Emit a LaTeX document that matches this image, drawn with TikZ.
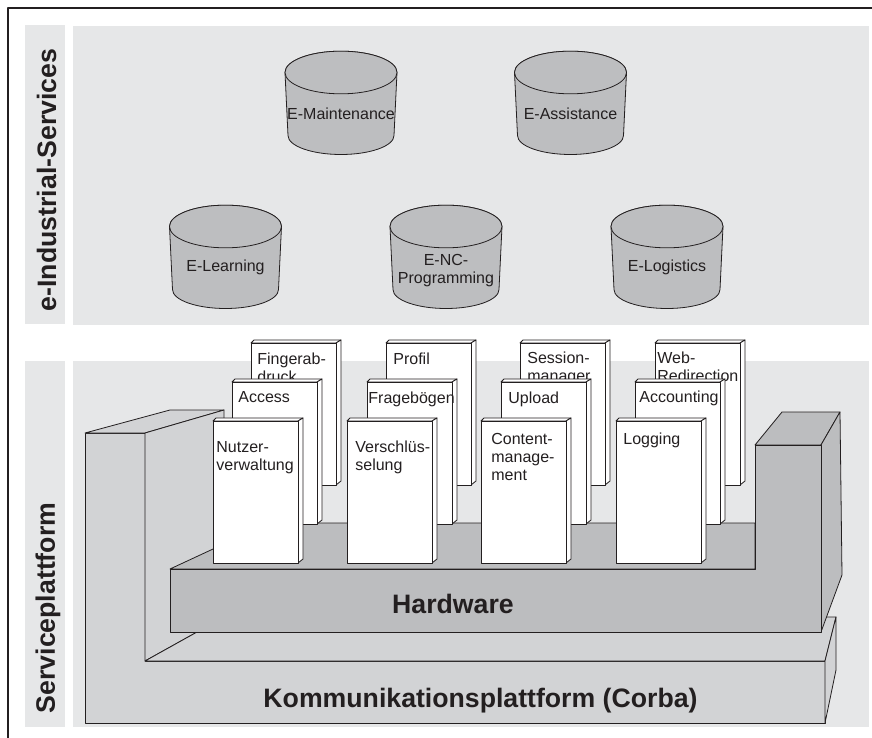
\documentclass[tikz,border=0pt]{standalone}
\usepackage{fontspec}
\setmainfont{Liberation Sans}

\definecolor{panelgray}{RGB}{230,231,232}
\definecolor{cangray}{RGB}{189,190,192}
\definecolor{hwgray}{RGB}{188,189,191}
\definecolor{kpgray}{RGB}{210,211,213}
\definecolor{linedark}{RGB}{35,31,32}

% a service drum: name, centre of the lid, text
\newcommand{\servicecan}[5][41]{%
  \filldraw[canbody] (#3-56,#4) -- (#3-53,#4+63)
    arc[start angle = 180, end angle = 360, x radius = 39.75pt, y radius = 14.25pt]
    -- (#3+56,#4)
    arc[start angle = 0, end angle = 180, x radius = 42pt, y radius = 16pt] -- cycle;
  \draw[canbody] (#3,#4) ellipse [x radius = 42pt, y radius = 16pt];
  \node[cantext] (#2) at (#3,#4+#1) {#5};
}

% a module book: name, top left corner, text inset, text
\newcommand{\modulebook}[6]{%
  \begin{scope}[shift = {(#2,#3)}]
    \filldraw[bookside] (0,0) -- (3,-3) -- (90,-3) -- (85,0) -- cycle;
    \filldraw[bookside] (85,0) -- (90,-3) -- (90,138) -- (85,142) -- cycle;
  \end{scope}
  \node[bookface] (#1) at (#2,#3) {};
  \node[booktext] (#1-text) at (#2+#4,#3+#5) {#6};
}

\begin{document}
\begin{tikzpicture}[x = 0.75pt, y = -0.75pt, line width = 0.6pt, line join = round,
    canbody/.style = {fill = cangray, draw = linedark},
    cantext/.style = {font = \fontsize{12}{13.5}\selectfont, align = center, text = linedark, inner sep = 0pt},
    bookside/.style = {fill = white, draw = linedark},
    bookface/.style = {anchor = north west, rectangle, fill = white, draw = linedark,
      minimum width = 63.75pt, minimum height = 106.5pt, inner sep = 0pt, outer sep = 0pt},
    booktext/.style = {anchor = north west, inner sep = 0pt, align = left, text = linedark,
      font = \fontsize{12}{13.5}\selectfont},
    kpface/.style = {fill = kpgray, draw = linedark},
    hwface/.style = {fill = hwgray, draw = linedark},
    sidelabel/.style = {rotate = 90, anchor = base, inner sep = 0pt, text = linedark,
      font = \fontsize{20}{24}\selectfont\bfseries},
    platformlabel/.style = {anchor = base, inner sep = 0pt, text = linedark,
      font = \fontsize{20}{24}\selectfont\bfseries}]

\useasboundingbox (0,0) rectangle (872,738);

% frame and bands
\draw[line width = 1.5pt, linedark] (8,738) -- (8,8) -- (872,8);
\fill[panelgray] (25,25) rectangle (65,324);
\fill[panelgray] (73,26) rectangle (869,325);
\fill[panelgray] (25,361) rectangle (65,727);
\fill[panelgray] (73,361) rectangle (869,727);

\node[sidelabel] (servicesLabel) at (56,180) {e-Industrial-Services};
\node[sidelabel] (platformLabel) at (55,608) {Serviceplattform};

% e-industrial services
\servicecan{maint}{341}{72.5}{E-Maintenance}
\servicecan{assist}{570.5}{72.5}{E-Assistance}
\servicecan{learn}{225.5}{226.5}{E-Learning}
\servicecan[44]{ncprog}{446}{226.5}{E-NC-\\Programming}
\servicecan{logist}{667}{226.5}{E-Logistics}

% communication platform
\filldraw[kpface] (85,433) -- (145,433) -- (145,661) -- (825,661) -- (825,723) -- (85,723) -- cycle;
\filldraw[kpface] (85,433) -- (170,410) -- (224,410) -- (145,433) -- cycle;
\filldraw[kpface] (145,433) -- (224,410) -- (224,617) -- (145,661) -- cycle;
\filldraw[kpface] (145,661) -- (224,617) -- (836,617) -- (825,661) -- cycle;
\filldraw[kpface] (825,661) -- (836,617) -- (836,670) -- (825,723) -- cycle;
\node[platformlabel] (kommLabel) at (480.5,707) {Kommunikationsplattform (Corba)};

% hardware
\filldraw[hwface] (170,569) -- (269,523) -- (755,523) -- (755,569) -- cycle;
\filldraw[hwface] (755,445) -- (782,412) -- (840,412) -- (821,445) -- cycle;
\filldraw[hwface] (821,445) -- (840,412) -- (842,575) -- (821,632) -- cycle;
\filldraw[hwface] (170,569) -- (755,569) -- (755,445) -- (821,445) -- (821,632) -- (170,632) -- cycle;
\node[platformlabel] (hwLabel) at (453,613) {Hardware};

% modules, back row first
\modulebook{finger}{251}{343}{6}{10}{Fingerab-\\druck}
\modulebook{profil}{386}{343}{7}{10}{Profil}
\modulebook{session}{520}{343}{7}{9}{Session-\\manager}
\modulebook{webredir}{655}{343}{2}{9}{Web-\\Redirection}
\modulebook{access}{232}{382}{6}{9}{Access}
\modulebook{frage}{367}{382}{1}{10}{Fragebögen}
\modulebook{upload}{501}{382}{7}{10}{Upload}
\modulebook{accounting}{635}{382}{4}{9}{Accounting}
\modulebook{nutzer}{213}{421}{3}{20}{Nutzer-\\verwaltung}
\modulebook{verschl}{347}{421}{8}{20}{Verschlüs-\\selung}
\modulebook{content}{481}{421}{10}{12}{Content-\\manage-\\ment}
\modulebook{logging}{616}{421}{7}{12}{Logging}

\end{tikzpicture}
\end{document}
